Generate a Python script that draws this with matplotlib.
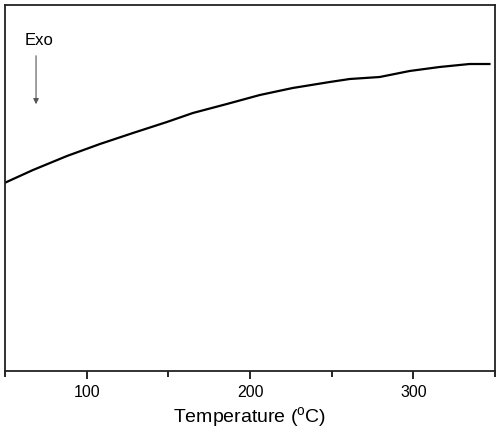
import numpy as np
from matplotlib import pyplot as plt

plt.rcParams['font.family'] = ['Liberation Sans', 'DejaVu Sans']

# DSC trace (arbitrary heat-flow units)
temp = [50, 67.1, 87.9, 108.1, 128.3, 149.1, 165, 185.8, 206, 226.1, 248.8,
        261, 279.4, 297.7, 316, 334.4, 346.6]
heat = [188.3, 201, 215, 227, 238, 249, 258, 267, 276, 283, 289,
        292, 294, 300, 304, 307, 307]

fig = plt.figure(figsize=(5, 4.34), dpi=100)
ax = fig.add_axes([0.01, 0.145, 0.98, 0.8435])
ax.plot(temp, heat, color='black', lw=1.6)

ax.set_xlim(50, 350)
ax.set_ylim(0, 366)
ax.set_xticks([100, 200, 300])
ax.set_xticks([50, 150, 250, 350], minor=True)
ax.set_yticks([])
ax.tick_params(axis='x', which='major', direction='out', length=6, width=1.2, labelsize=11.5, pad=4)
ax.tick_params(axis='x', which='minor', direction='out', length=4, width=1.2)
for s in ax.spines.values():
    s.set_linewidth(1.3)
    s.set_color('#222222')
ax.set_xlabel('Temperature ($^\\mathregular{o}$C)', fontsize=14, labelpad=4)

ax.annotate('', xy=(69, 264), xytext=(69, 318),
            arrowprops=dict(arrowstyle='-|>', color='#555555', lw=0.8, mutation_scale=8))
ax.text(70.8, 323, 'Exo', fontsize=12, ha='center', va='bottom')

fig.savefig('out.png')
